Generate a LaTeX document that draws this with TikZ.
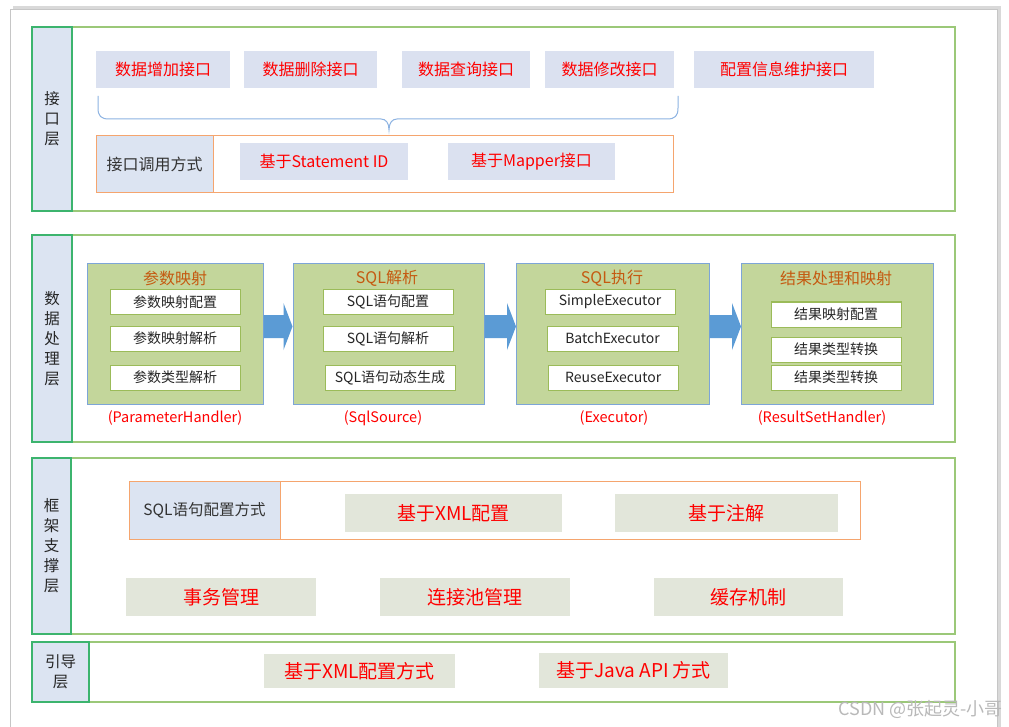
\documentclass[tikz,border=0pt]{standalone}
\usepackage{fontspec}
\setmainfont{Noto Sans CJK SC}
\usepackage{tikz}
\usetikzlibrary{positioning,calc}
\definecolor{laygreen}{RGB}{155,200,120}
\definecolor{labgreen}{RGB}{60,180,110}
\definecolor{labfill}{RGB}{220,228,242}
\definecolor{ifill}{RGB}{219,225,240}
\definecolor{orangeline}{RGB}{245,165,110}
\definecolor{olive}{RGB}{195,214,155}
\definecolor{panelblue}{RGB}{125,165,215}
\definecolor{oliveline}{RGB}{155,187,89}
\definecolor{titlebrown}{RGB}{197,90,17}
\definecolor{arrblue}{RGB}{91,155,213}
\definecolor{sfill}{RGB}{226,230,218}
\definecolor{bracec}{RGB}{141,179,226}
\tikzset{layer/.style={draw=laygreen, line width=1.2pt, minimum width=923pt, inner sep=0pt}}
\tikzset{lab/.style={draw=labgreen, fill=labfill, line width=1.2pt, anchor=north west, align=center, inner sep=0pt, font=\fontsize{15.5}{20}\selectfont, text=black!85}}
\tikzset{ibox/.style={fill=ifill, minimum height=37pt, inner sep=0pt, text=red, font=\fontsize{16}{18}\selectfont}}
\tikzset{obox/.style={draw=orangeline, line width=1pt, inner sep=0pt}}
\tikzset{ocell/.style={draw=orangeline, fill=labfill, line width=1pt, inner sep=0pt, anchor=north west, text=black!80}}
\tikzset{panel/.style={draw=panelblue, fill=olive, line width=1pt, minimum height=140pt, inner sep=0pt}}
\tikzset{pitem/.style={draw=oliveline, fill=white, line width=1pt, minimum width=130pt, minimum height=25pt, inner sep=0pt, font=\fontsize{14}{16}\selectfont, text=black!85}}
\tikzset{ptitle/.style={text=titlebrown, font=\fontsize{16}{18}\selectfont, inner sep=0pt}}
\tikzset{hname/.style={text=red, font=\fontsize{14.5}{16}\selectfont, inner sep=0pt}}
\tikzset{sbox/.style={fill=sfill, minimum height=38pt, inner sep=0pt, text=red, font=\fontsize{19}{21}\selectfont}}
\tikzset{blockarr/.style={fill=arrblue}}

\begin{document}
\begin{tikzpicture}[x=1pt, y=-1pt]
    \useasboundingbox (0,0) rectangle (1009,727);
    % page
    \fill[gray!30] (13,6) rectangle (1001,740);
    \draw[gray!45, fill=white] (10,9) rectangle (997,740);

    % --- interface layer
    \node[layer, minimum height=184pt] (L1) at (493.5,119) {};
    \node[lab, minimum width=40pt, minimum height=184pt] (L1lab) at (L1.north west) {接\\口\\层};
    \node[ibox, minimum width=134pt] (add) at (163,69.5) {数据增加接口};
    \node[ibox, minimum width=133pt] (del) at (310.5,69.5) {数据删除接口};
    \node[ibox, minimum width=128pt] (qry) at (466,69.5) {数据查询接口};
    \node[ibox, minimum width=129pt] (upd) at (609.5,69.5) {数据修改接口};
    \node[ibox, minimum width=180pt] (cfg) at (784,69.5) {配置信息维护接口};
    \draw[bracec, line width=1pt] (98,96) -- (98,108)
        .. controls (98,116) and (101,119) .. (109,119) -- (381,119)
        .. controls (386,119) and (389,123) .. (389,130)
        .. controls (389,123) and (392,119) .. (397,119) -- (667,119)
        .. controls (675,119) and (678,116) .. (678,108) -- (678,96);
    \node[obox, minimum width=577pt, minimum height=57pt] (call) at (384.5,164.5) {};
    \node[ocell, minimum width=117pt, minimum height=57pt, font=\fontsize{16}{18}\selectfont] (callname) at (call.north west) {接口调用方式};
    \node[ibox, minimum width=168pt] (stid) at (324,161.5) {基于Statement ID};
    \node[ibox, minimum width=167pt] (mapper) at (531.5,161.5) {基于Mapper接口};

    % --- data processing layer
    \node[layer, minimum height=207pt] (L2) at (493.5,338.5) {};
    \node[lab, minimum width=40pt, minimum height=207pt] (L2lab) at (L2.north west) {数\\据\\处\\理\\层};
    \node[panel, minimum width=176pt] (pmap) at (175,334) {};
    \node[panel, minimum width=191pt] (psql) at (388.5,334) {};
    \node[panel, minimum width=192.5pt] (pexe) at (612.75,334) {};
    \node[panel, minimum width=191.5pt] (pres) at (837.25,334) {};
    \foreach \a/\b in {pmap/psql, psql/pexe, pexe/pres}
        \fill[blockarr] let \p1=([yshift=7.5pt]\a.east), \p2=([yshift=7.5pt]\b.west) in
            (\x1,\y1+11.5pt) -- (\x2-9pt,\y1+11.5pt) -- (\x2-9pt,\y1+23.5pt) -- (\x2,\y1)
            -- (\x2-9pt,\y1-23.5pt) -- (\x2-9pt,\y1-11.5pt) -- (\x1,\y1-11.5pt) -- cycle;
    \node[ptitle] (tmap) at (175,278) {参数映射};
    \node[ptitle] (tsql) at (387,278) {SQL解析};
    \node[ptitle] (texe) at (612,278) {SQL执行};
    \node[ptitle] (tres) at (836,278) {结果处理和映射};
    \node[pitem] (m1) at (175,302) {参数映射配置};
    \node[pitem] (m2) at (175,338.5) {参数映射解析};
    \node[pitem] (m3) at (175,377.5) {参数类型解析};
    \node[pitem] (s1) at (388,302) {SQL语句配置};
    \node[pitem] (s2) at (388,338.5) {SQL语句解析};
    \node[pitem] (s3) at (390,377.5) {SQL语句动态生成};
    \node[pitem] (e1) at (610,302) {SimpleExecutor};
    \node[pitem, minimum width=131pt] (e2) at (612.5,338.5) {BatchExecutor};
    \node[pitem, minimum width=129.5pt] (e3) at (613.3,377.5) {ReuseExecutor};
    \node[pitem] (r1) at (836,314.5) {结果映射配置};
    \node[pitem] (r2) at (836,349.5) {结果类型转换};
    \node[pitem] (r3) at (836,377.5) {结果类型转换};
    \node[hname] (hmap) at (175,418) {(ParameterHandler)};
    \node[hname] (hsql) at (383,418) {(SqlSource)};
    \node[hname] (hexe) at (614,418) {(Executor)};
    \node[hname] (hres) at (822,418) {(ResultSetHandler)};

    % --- framework layer
    \node[layer, minimum height=176pt] (L3) at (493.5,546) {};
    \node[lab, minimum width=39pt, minimum height=176pt] (L3lab) at (L3.north west) {框\\架\\支\\撑\\层};
    \node[obox, minimum width=731pt, minimum height=58pt] (sqlcfg) at (494.5,510) {};
    \node[ocell, minimum width=151pt, minimum height=58pt, font=\fontsize{15.5}{18}\selectfont] (sqlcfgname) at (sqlcfg.north west) {SQL语句配置方式};
    \node[sbox, minimum width=217pt] (xmlcfg) at (453.5,513) {基于XML配置};
    \node[sbox, minimum width=223pt] (anno) at (726.5,513) {基于注解};
    \node[sbox, minimum width=190pt] (tx) at (221,597) {事务管理};
    \node[sbox, minimum width=190pt] (pool) at (475,597) {连接池管理};
    \node[sbox, minimum width=189pt] (cache) at (748.5,597) {缓存机制};

    % --- boot layer
    \node[layer, minimum height=60pt] (L4) at (493.5,672) {};
    \node[lab, minimum width=57pt, minimum height=60pt] (L4lab) at (L4.north west) {引导\\层};
    \node[sbox, minimum width=191pt, minimum height=34pt] (xmlboot) at (359.5,671) {基于XML配置方式};
    \node[sbox, minimum width=189pt, minimum height=35pt] (apiboot) at (633.5,670.5) {基于Java API 方式};

    \node[text=gray!55, font=\fontsize{18}{20}\selectfont, anchor=east, inner sep=0pt] (mark) at (1003,710) {CSDN @张起灵-小哥};
\end{tikzpicture}
\end{document}
